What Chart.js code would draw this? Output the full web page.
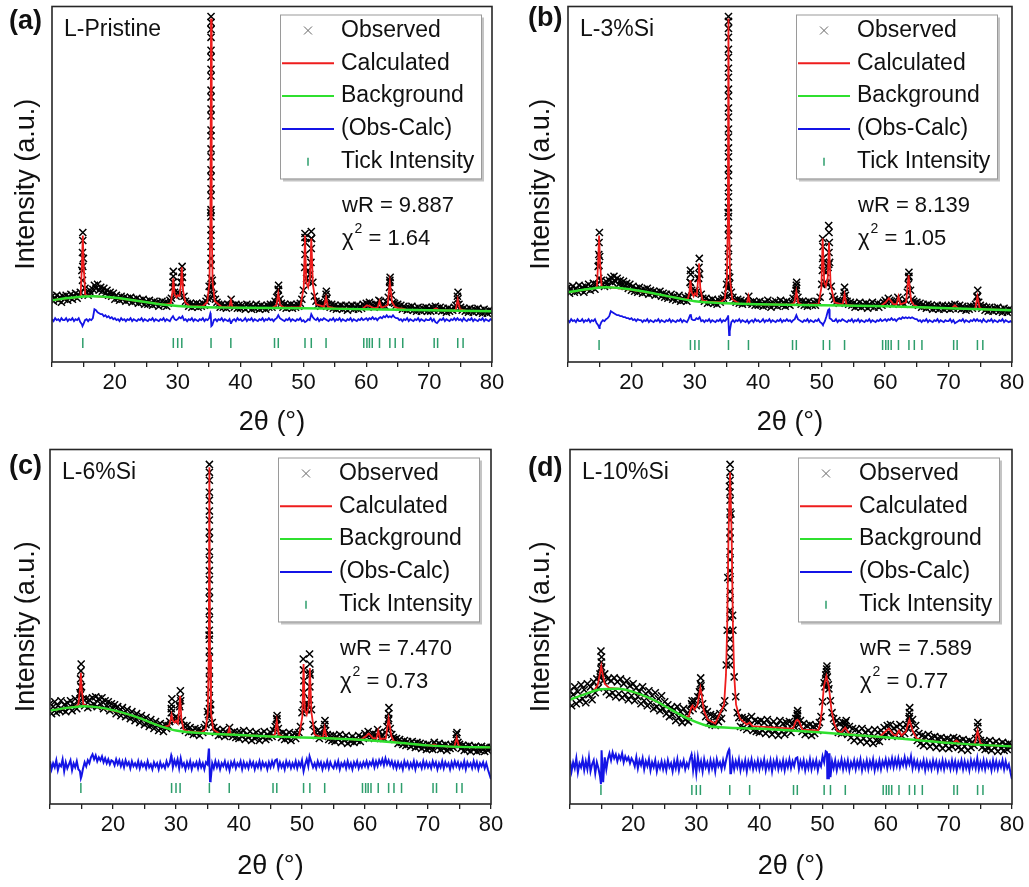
<!DOCTYPE html>
<html>
<head>
<meta charset="utf-8">
<script src="https://cdn.jsdelivr.net/npm/chart.js@4.4.0/dist/chart.umd.min.js"></script>
<style>
  body { margin: 0; background: #fff; }
  #wrap { position: relative; width: 1029px; height: 887px; overflow: hidden; }
  #wrap canvas { position: absolute; }
</style>
</head>
<body>
<div id="wrap">
  <canvas id="panelA" width="515" height="443" style="left:0;top:0"></canvas>
  <canvas id="panelB" width="514" height="443" style="left:515px;top:0"></canvas>
  <canvas id="panelC" width="515" height="444" style="left:0;top:443px"></canvas>
  <canvas id="panelD" width="514" height="444" style="left:515px;top:443px"></canvas>
</div>
<script>
// 2θ grid of the observed / difference points (0.25° steps)
const twoTheta = [
  10, 10.25, 10.5, 10.75, 11, 11.25, 11.5, 11.75, 12, 12.25, 12.5, 12.75, 13, 13.25, 13.5, 13.75, 14, 14.25, 14.5, 14.75,
  15, 15.25, 15.5, 15.75, 16, 16.25, 16.5, 16.75, 17, 17.25, 17.5, 17.75, 18, 18.25, 18.5, 18.75, 19, 19.25, 19.5, 19.75,
  20, 20.25, 20.5, 20.75, 21, 21.25, 21.5, 21.75, 22, 22.25, 22.5, 22.75, 23, 23.25, 23.5, 23.75, 24, 24.25, 24.5, 24.75,
  25, 25.25, 25.5, 25.75, 26, 26.25, 26.5, 26.75, 27, 27.25, 27.5, 27.75, 28, 28.25, 28.5, 28.75, 29, 29.25, 29.5, 29.75,
  30, 30.25, 30.5, 30.75, 31, 31.25, 31.5, 31.75, 32, 32.25, 32.5, 32.75, 33, 33.25, 33.5, 33.75, 34, 34.25, 34.5, 34.75,
  35, 35.25, 35.5, 35.75, 36, 36.25, 36.5, 36.75, 37, 37.25, 37.5, 37.75, 38, 38.25, 38.5, 38.75, 39, 39.25, 39.5, 39.75,
  40, 40.25, 40.5, 40.75, 41, 41.25, 41.5, 41.75, 42, 42.25, 42.5, 42.75, 43, 43.25, 43.5, 43.75, 44, 44.25, 44.5, 44.75,
  45, 45.25, 45.5, 45.75, 46, 46.25, 46.5, 46.75, 47, 47.25, 47.5, 47.75, 48, 48.25, 48.5, 48.75, 49, 49.25, 49.5, 49.75,
  50, 50.25, 50.5, 50.75, 51, 51.25, 51.5, 51.75, 52, 52.25, 52.5, 52.75, 53, 53.25, 53.5, 53.75, 54, 54.25, 54.5, 54.75,
  55, 55.25, 55.5, 55.75, 56, 56.25, 56.5, 56.75, 57, 57.25, 57.5, 57.75, 58, 58.25, 58.5, 58.75, 59, 59.25, 59.5, 59.75,
  60, 60.25, 60.5, 60.75, 61, 61.25, 61.5, 61.75, 62, 62.25, 62.5, 62.75, 63, 63.25, 63.5, 63.75, 64, 64.25, 64.5, 64.75,
  65, 65.25, 65.5, 65.75, 66, 66.25, 66.5, 66.75, 67, 67.25, 67.5, 67.75, 68, 68.25, 68.5, 68.75, 69, 69.25, 69.5, 69.75,
  70, 70.25, 70.5, 70.75, 71, 71.25, 71.5, 71.75, 72, 72.25, 72.5, 72.75, 73, 73.25, 73.5, 73.75, 74, 74.25, 74.5, 74.75,
  75, 75.25, 75.5, 75.75, 76, 76.25, 76.5, 76.75, 77, 77.25, 77.5, 77.75, 78, 78.25, 78.5, 78.75, 79, 79.25, 79.5, 79.75,
  80
];

// Bragg reflection positions (tick marks)
const tickAngles = [14.9, 29.3, 30.0, 30.65, 35.3, 38.45, 45.4, 46.0, 50.25, 51.25, 53.6,
  59.6, 60.1, 60.5, 60.95, 62.1, 63.75, 64.6, 65.8, 70.8, 71.35, 74.55, 75.4];

// ---------- (a) L-Pristine ----------
const obsA = [
  66, 61, 64, 67, 62, 65, 60, 66, 63, 67, 62, 65, 68, 63, 66, 69, 64, 67, 70, 92,
  104, 74, 70, 67, 72, 69, 73, 77, 74, 78, 72, 75, 71, 74, 69, 72, 67, 70, 66, 69,
  63, 67, 64, 62, 66, 63, 65, 61, 64, 62, 65, 60, 63, 61, 64, 59, 62, 60, 63, 58,
  61, 58, 62, 59, 57, 61, 58, 60, 56, 59, 61, 57, 60, 56, 59, 62, 64, 80, 70, 66,
  70, 68, 80, 85, 66, 61, 59, 56, 59, 55, 58, 56, 59, 55, 58, 56, 59, 57, 61, 64,
  76, 150, 82, 68, 63, 60, 58, 55, 58, 55, 57, 54, 58, 57, 63, 57, 55, 58, 54, 57,
  54, 57, 55, 53, 58, 55, 57, 53, 56, 54, 58, 55, 53, 57, 54, 56, 53, 57, 55, 58,
  55, 58, 61, 65, 72, 63, 59, 55, 58, 54, 57, 55, 58, 54, 57, 55, 58, 56, 59, 63,
  72, 125, 84, 82, 88, 124, 80, 66, 61, 57, 60, 56, 59, 58, 63, 64, 58, 55, 58, 54,
  57, 53, 56, 54, 57, 53, 55, 57, 52, 56, 54, 57, 53, 55, 57, 53, 56, 54, 58, 56,
  59, 57, 60, 58, 57, 55, 58, 57, 62, 61, 57, 58, 56, 60, 65, 80, 67, 60, 59, 57,
  58, 55, 57, 53, 56, 54, 52, 55, 53, 56, 52, 54, 51, 55, 53, 51, 54, 52, 55, 51,
  54, 51, 55, 52, 56, 54, 52, 55, 51, 54, 52, 50, 54, 51, 53, 52, 55, 57, 63, 58,
  55, 52, 54, 51, 53, 50, 54, 52, 50, 53, 51, 54, 50, 52, 49, 53, 51, 49, 52, 50,
  51
];
const peakAngleA = [14.85, 14.9, 14.85, 14.9, 14.9, 29.25, 29.3, 29.3, 30.6, 30.65, 30.7, 35.2, 35.4,
  45.95, 46.0, 46.05, 50.2, 50.25, 50.3, 50.25, 50.75, 51.2, 51.25, 51.3, 51.25, 53.6, 53.65,
  63.7, 63.75, 63.8, 74.5, 74.6];
const peakObsA = [82, 96, 110, 122, 130, 75, 86, 91, 80, 90, 96, 70, 75,
  66, 73, 77, 95, 108, 120, 129, 92, 100, 114, 124, 131, 68, 71,
  75, 82, 85, 66, 70];
const columnA = [64, 76, 84, 97, 104, 116, 127, 133, 146, 153, 167, 174, 186, 193, 206, 214,
  227, 233, 247, 254, 266, 273, 287, 294, 306, 313, 326, 334, 341, 347];
const calcAngleA = [10, 12, 14, 14.55, 14.75, 14.9, 15.05, 15.3, 17, 20,
  24, 28, 28.9, 29.15, 29.3, 29.5, 29.8, 30.0, 30.3, 30.5,
  30.65, 30.85, 31.2, 32, 34, 34.7, 35.05, 35.2, 35.3, 35.4,
  35.55, 35.9, 37, 38.2, 38.45, 38.7, 40, 45, 45.7, 46.0,
  46.3, 47, 49.5, 50.05, 50.25, 50.45, 50.75, 51.05, 51.25, 51.5,
  52, 53.3, 53.6, 53.9, 55, 59.3, 60.1, 60.6, 61.3, 61.8,
  62.1, 62.4, 63.4, 63.75, 64.1, 64.6, 65.1, 65.8, 66.3, 70.5,
  71.1, 71.6, 74.2, 74.55, 74.9, 75.4, 75.8, 80];
const calcA = [62, 63.7, 65, 66, 95, 127, 95, 67, 66, 64.5,
  61, 57.5, 59, 70, 84, 68, 65, 67, 66, 78,
  95, 72, 60, 55.5, 56, 60, 80, 140, 345, 140,
  80, 61, 55.2, 55, 62, 55, 54.5, 54.3, 57, 69,
  57, 54.5, 55, 75, 127, 80, 75, 85, 124, 78,
  58, 55.5, 65, 55.5, 53.8, 53.1, 57, 56, 54, 54.5,
  61, 54.5, 57, 80, 60, 55, 54, 53.5, 52.6, 52,
  54, 52, 51.6, 63, 53, 52, 51.5, 51];
const bgAngleA = [10, 13, 16.5, 20, 24, 28, 32, 40, 50, 60, 70, 80];
const bgA = [62, 64.5, 66, 64.5, 61, 57.5, 55.5, 54.5, 54, 53, 52, 51];
const diffA = [
  43, 41, 44, 42, 43, 41, 44, 42, 42, 44, 41, 43, 42, 44, 41, 43, 42, 44, 40, 38,
  38, 42, 43, 41, 43, 42, 44, 53, 52, 50, 49, 48, 48, 46, 47, 45, 46, 44, 45, 43,
  44, 42, 43, 41, 44, 42, 43, 41, 43, 42, 44, 41, 43, 42, 41, 43, 42, 44, 41, 43,
  42, 41, 43, 42, 44, 41, 43, 42, 41, 43, 42, 44, 41, 43, 42, 41, 44, 46, 43, 42,
  43, 45, 44, 46, 42, 43, 41, 43, 42, 44, 41, 43, 42, 41, 43, 42, 44, 41, 43, 42,
  44, 48, 37, 42, 43, 41, 43, 42, 44, 41, 43, 42, 41, 43, 39, 42, 43, 41, 44, 42,
  43, 41, 42, 44, 41, 43, 42, 44, 41, 43, 42, 41, 43, 42, 44, 41, 43, 42, 44, 42,
  43, 41, 43, 44, 47, 44, 43, 42, 41, 43, 42, 44, 41, 43, 42, 41, 43, 42, 44, 41,
  42, 40, 41, 43, 42, 48, 45, 43, 42, 44, 41, 43, 42, 44, 43, 42, 41, 43, 42, 44,
  41, 43, 42, 44, 41, 43, 42, 41, 43, 42, 44, 41, 43, 42, 41, 43, 42, 44, 42, 43,
  44, 42, 44, 43, 45, 43, 44, 42, 44, 45, 44, 46, 45, 47, 45, 46, 45, 47, 45, 44,
  44, 42, 43, 41, 43, 42, 44, 41, 43, 42, 41, 43, 42, 44, 41, 43, 42, 41, 43, 42,
  42, 44, 41, 43, 40, 39, 41, 43, 42, 44, 41, 43, 42, 41, 43, 42, 44, 42, 44, 42,
  43, 41, 44, 42, 41, 43, 42, 44, 41, 43, 42, 41, 43, 42, 44, 41, 43, 42, 41, 43,
  42
];
const diffPeakAngleA = [14.85, 35.2, 35.35, 38.45, 50.3, 51.25];
const diffPeakA = [36, 49, 36, 39, 40, 48];

// ---------- (b) L-3%Si ----------
const obsB = [
  75, 69, 73, 76, 70, 74, 71, 77, 72, 75, 70, 76, 73, 78, 72, 75, 79, 73, 78, 96,
  106, 82, 78, 76, 81, 77, 82, 85, 80, 86, 81, 84, 78, 82, 77, 81, 76, 79, 74, 78,
  72, 76, 71, 74, 70, 75, 72, 69, 73, 70, 74, 68, 72, 69, 71, 67, 70, 68, 71, 66,
  69, 65, 68, 64, 66, 68, 63, 66, 62, 65, 67, 61, 64, 62, 65, 61, 66, 80, 72, 69,
  72, 70, 84, 88, 68, 64, 61, 64, 59, 62, 60, 63, 59, 61, 58, 62, 60, 63, 64, 67,
  78, 150, 85, 70, 65, 62, 60, 63, 59, 62, 58, 61, 60, 59, 66, 60, 58, 61, 57, 60,
  57, 61, 58, 56, 60, 57, 62, 58, 55, 60, 57, 61, 56, 59, 62, 57, 60, 56, 61, 58,
  57, 60, 64, 68, 74, 65, 61, 58, 61, 57, 60, 56, 61, 58, 57, 60, 57, 61, 60, 65,
  78, 100, 80, 79, 95, 100, 76, 66, 63, 60, 62, 59, 61, 60, 66, 67, 61, 58, 60, 57,
  59, 55, 58, 56, 60, 55, 58, 56, 59, 54, 58, 56, 60, 55, 57, 59, 55, 58, 57, 60,
  62, 60, 64, 62, 61, 58, 60, 59, 65, 63, 59, 60, 58, 62, 70, 86, 72, 63, 61, 59,
  60, 57, 59, 55, 58, 56, 54, 58, 55, 57, 53, 56, 54, 57, 53, 55, 57, 53, 56, 54,
  56, 53, 57, 54, 58, 56, 54, 57, 53, 56, 54, 52, 55, 53, 56, 54, 56, 58, 65, 60,
  57, 54, 56, 52, 55, 51, 55, 53, 51, 54, 52, 55, 51, 53, 50, 54, 52, 50, 53, 51,
  52
];
const peakAngleB = [14.85, 14.9, 14.85, 14.9, 14.95, 29.3, 29.35, 29.3, 30.6, 30.65, 30.7, 35.2, 35.4,
  45.95, 46.0, 46.05, 50.1, 50.15, 50.2, 50.15, 50.65, 51.1, 51.15, 51.2, 51.15, 51.1,
  53.55, 53.6, 63.65, 63.7, 63.75, 74.5, 74.6];
const peakObsB = [84, 97, 108, 120, 130, 80, 88, 92, 84, 95, 104, 74, 78,
  72, 77, 80, 92, 104, 116, 124, 90, 98, 110, 120, 130, 137,
  70, 75, 78, 85, 90, 66, 72];
const columnB = [66, 75, 86, 95, 106, 114, 127, 134, 146, 155, 166, 175, 187, 194, 206, 215,
  226, 234, 246, 255, 267, 274, 286, 295, 306, 314, 326, 335, 342, 347];
const calcAngleB = [10, 12, 14, 14.55, 14.75, 14.9, 15.05, 15.3, 17, 20,
  24, 28, 28.9, 29.15, 29.3, 29.5, 29.8, 30.0, 30.3, 30.5,
  30.65, 30.85, 31.2, 32, 34, 34.7, 35.05, 35.2, 35.3, 35.4,
  35.55, 35.9, 37, 38.2, 38.45, 38.7, 40, 45, 45.7, 46.0,
  46.3, 47, 49.5, 49.95, 50.15, 50.4, 50.65, 50.95, 51.15, 51.4,
  52, 53.3, 53.6, 53.9, 55, 59.3, 60.1, 60.6, 61.3, 61.8,
  62.1, 62.4, 63.3, 63.7, 64.1, 64.6, 65.1, 65.8, 66.3, 70.5,
  71.0, 71.5, 74.2, 74.55, 74.9, 75.4, 75.8, 80];
const calcB = [70, 72, 73.7, 75, 100, 127, 100, 75.5, 74.8, 72.5,
  68.2, 63.3, 63, 70, 82, 70, 66, 69, 67, 82,
  99, 75, 62, 60.6, 60, 63, 82, 140, 345, 140,
  82, 63, 58.6, 58.4, 66, 58.3, 58, 57.5, 59.5, 71,
  59.5, 57.3, 58, 75, 124, 80, 76, 85, 120, 78,
  60, 57.7, 68, 57.6, 56.5, 56.1, 60, 64, 58, 58,
  66, 58, 60, 87, 61, 56.5, 55.6, 55, 54.7, 53.9,
  57, 53.7, 53.2, 66, 54, 53, 52.8, 52];
const bgAngleB = [10, 13, 16, 19, 23, 27, 30, 35, 40, 50, 60, 70, 80];
const bgB = [70, 73, 75, 73.5, 69.5, 64.5, 61, 59, 58, 57, 56, 54, 52];
const diffB = [
  42, 40, 43, 41, 42, 40, 43, 41, 41, 43, 40, 42, 41, 43, 40, 42, 41, 43, 39, 37,
  36, 40, 42, 41, 43, 44, 46, 51, 50, 49, 48, 47, 47, 46, 46, 45, 45, 44, 44, 43,
  44, 42, 43, 41, 43, 42, 42, 40, 42, 41, 43, 40, 42, 41, 40, 42, 41, 43, 40, 42,
  41, 40, 42, 41, 43, 40, 42, 41, 40, 42, 41, 43, 40, 42, 41, 40, 43, 47, 43, 42,
  42, 44, 43, 45, 41, 42, 40, 42, 41, 43, 40, 42, 41, 40, 42, 41, 43, 40, 42, 41,
  43, 46, 31, 40, 42, 40, 42, 41, 43, 40, 42, 41, 40, 42, 39, 41, 42, 40, 43, 41,
  42, 40, 41, 43, 40, 42, 41, 43, 40, 42, 41, 40, 42, 41, 43, 40, 42, 41, 43, 41,
  42, 40, 42, 43, 47, 43, 42, 41, 40, 42, 41, 43, 40, 42, 41, 40, 42, 41, 43, 40,
  39, 38, 41, 46, 52, 44, 43, 41, 41, 43, 40, 42, 41, 43, 42, 41, 40, 42, 41, 43,
  40, 42, 41, 43, 40, 42, 41, 40, 42, 41, 43, 40, 42, 41, 40, 42, 41, 43, 41, 42,
  43, 41, 43, 42, 44, 42, 43, 41, 43, 44, 43, 45, 44, 45, 44, 45, 44, 45, 44, 43,
  43, 41, 42, 40, 42, 41, 43, 40, 42, 41, 40, 42, 41, 43, 40, 42, 41, 40, 42, 41,
  41, 43, 40, 42, 39, 40, 41, 42, 41, 43, 40, 42, 41, 40, 42, 41, 43, 41, 43, 41,
  42, 40, 43, 41, 40, 42, 41, 43, 40, 42, 41, 40, 42, 41, 43, 40, 42, 41, 40, 41,
  40
];
const diffPeakAngleB = [14.95, 29.35, 35.25, 35.4, 50.2, 51.15];
const diffPeakB = [34, 48, 47, 27, 37, 53];

// ---------- (c) L-6%Si ----------
const obsC = [
  101, 91, 98, 103, 92, 99, 94, 104, 95, 100, 93, 102, 97, 104, 94, 100, 106, 96, 103, 112,
  118, 106, 99, 106, 97, 105, 99, 107, 100, 108, 98, 106, 101, 107, 96, 104, 99, 103, 94, 101,
  96, 100, 91, 98, 94, 89, 97, 92, 88, 95, 90, 86, 93, 88, 84, 91, 87, 82, 89, 85,
  80, 87, 82, 78, 85, 80, 76, 83, 79, 74, 81, 77, 73, 80, 76, 79, 83, 96, 86, 84,
  88, 86, 100, 104, 84, 79, 74, 79, 72, 77, 73, 70, 76, 71, 75, 69, 74, 72, 77, 80,
  93, 170, 100, 82, 77, 72, 75, 69, 73, 70, 75, 68, 72, 70, 77, 71, 68, 73, 67, 72,
  66, 72, 68, 74, 65, 70, 67, 73, 64, 70, 66, 72, 68, 64, 71, 67, 73, 65, 70, 67,
  72, 68, 74, 78, 85, 76, 71, 67, 72, 65, 70, 66, 72, 64, 69, 71, 66, 70, 72, 78,
  92, 135, 98, 95, 100, 132, 95, 80, 73, 69, 74, 66, 71, 68, 76, 74, 70, 65, 69, 64,
  69, 63, 68, 65, 70, 62, 67, 64, 69, 61, 66, 63, 68, 62, 66, 64, 69, 63, 67, 66,
  71, 68, 73, 70, 67, 71, 66, 70, 75, 72, 67, 70, 66, 72, 78, 86, 76, 70, 67, 65,
  66, 61, 65, 62, 60, 64, 59, 63, 61, 58, 63, 60, 57, 62, 58, 61, 56, 60, 58, 55,
  60, 56, 59, 55, 62, 59, 57, 61, 55, 59, 56, 60, 54, 58, 56, 59, 57, 60, 66, 62,
  60, 56, 59, 54, 58, 55, 59, 53, 57, 55, 58, 53, 57, 54, 58, 55, 53, 57, 54, 56,
  57
];
const peakAngleC = [14.85, 14.9, 14.85, 14.9, 14.95, 29.25, 29.3, 29.35, 30.6, 30.65, 30.7, 35.15, 35.45,
  45.95, 46.0, 46.05, 50.2, 50.25, 50.3, 50.25, 50.2, 50.75, 51.2, 51.25, 51.3, 51.25, 51.2,
  53.6, 53.65, 63.7, 63.75, 63.8, 74.5, 74.6];
const peakObsC = [110, 118, 126, 134, 141, 92, 100, 106, 98, 107, 114, 90, 95,
  80, 86, 89, 100, 112, 124, 135, 146, 100, 105, 118, 130, 141, 151,
  80, 84, 84, 91, 97, 70, 72];
const columnC = [88, 96, 107, 115, 126, 134, 147, 154, 166, 175, 186, 194, 207, 214,
  226, 235, 246, 254, 267, 274, 286, 295, 306, 314, 326, 334, 342];
const calcAngleC = [10, 12, 14, 14.5, 14.75, 14.9, 15.05, 15.3, 16, 18,
  20, 22, 24, 26, 28, 28.9, 29.15, 29.3, 29.5, 29.8,
  30.0, 30.3, 30.5, 30.65, 30.85, 31.2, 32, 34, 34.7, 35.05,
  35.2, 35.3, 35.4, 35.55, 35.9, 37, 38.2, 38.45, 38.7, 40,
  45, 45.7, 46.0, 46.3, 47, 49.5, 50.05, 50.25, 50.45, 50.75,
  51.05, 51.25, 51.5, 52, 53.3, 53.6, 53.9, 55, 59.3, 60.1,
  60.6, 61.3, 61.8, 62.1, 62.4, 63.3, 63.75, 64.2, 64.6, 65.1,
  65.8, 66.3, 70.5, 71.0, 71.5, 74.2, 74.55, 74.9, 75.4, 75.8,
  80];
const calcC = [94, 96, 98, 100, 115, 132, 115, 100, 98.5, 97,
  94, 91, 87, 82, 77.5, 79, 85, 90, 84, 82,
  84, 81, 95, 109, 86, 75, 73, 72, 75, 92,
  150, 339, 150, 92, 75, 70.5, 70, 76, 70, 69.5,
  68, 70, 84, 70, 67.8, 67.2, 88, 141, 95, 90,
  98, 137, 92, 70, 66.3, 77, 66.2, 66, 64.7, 68,
  71, 66, 66, 74, 65.5, 66, 86, 68, 63, 62,
  61.5, 61, 58.8, 60, 58.5, 57.6, 67, 58, 57.5, 57.4,
  57];
const bgAngleC = [10, 13, 15.5, 18, 21.5, 24, 26, 28, 30, 35, 40, 45, 50, 55, 60, 65, 70, 75, 80];
const bgC = [94, 97, 98.5, 97, 92, 87, 82, 77.5, 74, 71, 69.5, 68, 67, 66, 64.5, 62, 59, 57.5, 57];
const diffC = [
  43, 35, 41, 37, 44, 34, 40, 38, 45, 33, 42, 36, 40, 44, 34, 41, 37, 43, 35, 33,
  28, 36, 42, 38, 44, 41, 47, 50, 45, 49, 43, 47, 44, 48, 42, 46, 41, 45, 40, 44,
  43, 39, 45, 40, 44, 38, 43, 37, 44, 39, 42, 36, 43, 38, 41, 37, 43, 36, 42, 38,
  41, 36, 43, 37, 40, 35, 42, 38, 41, 35, 42, 37, 40, 36, 43, 38, 41, 49, 37, 44,
  39, 45, 36, 46, 38, 41, 35, 42, 37, 43, 35, 41, 38, 42, 36, 43, 37, 41, 35, 42,
  40, 55, 24, 41, 36, 43, 37, 42, 35, 41, 38, 43, 36, 41, 34, 42, 38, 43, 36, 41,
  38, 43, 35, 42, 37, 41, 36, 43, 38, 42, 35, 41, 37, 43, 36, 42, 38, 41, 35, 42,
  37, 43, 38, 44, 45, 36, 42, 37, 41, 35, 43, 38, 42, 36, 41, 37, 43, 36, 42, 38,
  44, 33, 40, 45, 38, 48, 42, 37, 41, 36, 43, 38, 42, 35, 41, 37, 43, 36, 42, 38,
  36, 42, 37, 43, 35, 41, 38, 42, 36, 43, 37, 41, 35, 42, 38, 43, 36, 41, 37, 42,
  38, 43, 37, 42, 39, 44, 37, 43, 38, 44, 40, 45, 39, 46, 40, 44, 39, 43, 37, 42,
  36, 42, 37, 41, 35, 43, 38, 42, 36, 41, 37, 43, 35, 42, 38, 41, 36, 43, 37, 42,
  37, 41, 36, 43, 38, 42, 35, 41, 37, 43, 36, 42, 38, 41, 35, 42, 37, 43, 38, 42,
  36, 41, 37, 43, 35, 42, 38, 41, 36, 43, 37, 42, 35, 41, 38, 42, 36, 41, 35, 30,
  25
];
const diffPeakAngleC = [14.9, 29.3, 35.2, 35.4, 50.3, 51.2];
const diffPeakC = [26, 48, 55, 23, 33, 48];

// ---------- (d) L-10%Si ----------
const obsD = [
  114, 99, 110, 118, 101, 113, 104, 120, 106, 115, 102, 121, 110, 118, 105, 123, 112, 126, 117, 131,
  138, 124, 131, 113, 126, 110, 124, 112, 127, 108, 123, 111, 126, 107, 121, 110, 124, 105, 119, 109,
  121, 104, 117, 108, 113, 101, 118, 104, 111, 99, 114, 102, 109, 96, 112, 98, 106, 94, 109, 96,
  103, 91, 100, 88, 97, 90, 95, 84, 98, 87, 93, 82, 96, 85, 91, 83, 94, 101, 96, 104,
  99, 108, 113, 119, 101, 95, 88, 93, 82, 90, 80, 89, 79, 88, 83, 91, 86, 97, 104, 140,
  228, 320, 292, 190, 128, 108, 92, 87, 78, 87, 77, 86, 75, 85, 79, 88, 74, 84, 73, 83,
  72, 84, 74, 82, 71, 85, 75, 80, 70, 83, 74, 79, 69, 84, 73, 81, 70, 82, 75, 83,
  72, 81, 78, 86, 89, 80, 84, 73, 81, 70, 79, 72, 80, 69, 78, 71, 79, 74, 82, 88,
  103, 122, 130, 128, 116, 104, 92, 86, 78, 84, 72, 81, 71, 82, 76, 84, 70, 78, 67, 76,
  64, 75, 67, 73, 63, 76, 66, 72, 62, 74, 65, 71, 61, 75, 64, 72, 63, 74, 68, 77,
  70, 79, 72, 80, 68, 76, 70, 78, 72, 80, 69, 77, 71, 80, 76, 88, 80, 85, 72, 79,
  64, 71, 61, 69, 59, 68, 62, 70, 58, 67, 61, 68, 57, 66, 60, 67, 56, 65, 59, 66,
  56, 65, 58, 67, 60, 66, 57, 64, 55, 65, 58, 63, 54, 64, 57, 62, 59, 66, 72, 70,
  64, 57, 63, 55, 62, 56, 64, 54, 61, 57, 63, 53, 60, 56, 62, 54, 60, 55, 61, 57,
  59
];
const peakAngleD = [14.8, 14.9, 14.95, 15.0, 14.9, 29.3, 29.35, 30.6, 30.65, 30.7, 34.9, 35.8,
  45.95, 46.0, 46.05, 50.4, 50.5, 50.6, 50.7, 50.65, 50.9, 53.55, 53.6, 63.7, 63.75, 63.8, 74.55, 74.6];
const peakObsD = [128, 136, 143, 148, 154, 100, 104, 112, 121, 127, 175, 175,
  86, 91, 94, 118, 126, 133, 139, 136, 120, 79, 82, 86, 92, 97, 78, 82];
const columnD = [140, 148, 157, 166, 174, 187, 195, 206, 214, 226, 235, 246, 254, 267, 274,
  286, 294, 306, 314, 326, 334, 342];
const calcAngleD = [10, 12, 13.8, 14.4, 14.7, 14.95, 15.2, 15.5, 16.2, 18,
  20, 22, 24, 26, 28, 28.8, 29.2, 29.4, 29.7, 30.0,
  30.2, 30.45, 30.65, 30.85, 31.2, 31.8, 33, 34.4, 34.7, 34.9,
  35.1, 35.35, 35.6, 35.8, 36.0, 36.3, 36.9, 38.0, 38.45, 38.9,
  40, 45.3, 45.8, 46.0, 46.3, 46.8, 49.3, 49.6, 49.9, 50.2,
  50.6, 51.0, 51.4, 51.8, 52.3, 53.0, 53.6, 54.2, 55, 59.0,
  59.6, 60.5, 61.2, 61.7, 62.1, 62.5, 63.2, 63.75, 64.3, 64.9,
  65.8, 70.6, 71.2, 71.8, 74.1, 74.55, 75.0, 75.6, 80];
const calcD = [105, 110, 114, 120, 130, 139, 130, 121, 117, 116,
  113, 108, 102.5, 95, 88, 88, 97, 99, 95, 98,
  100, 110, 117, 110, 94, 85, 81, 100, 130, 180,
  270, 334, 270, 180, 130, 100, 86, 80, 82, 78.5,
  78, 76, 84, 85, 83, 75, 74, 80, 95, 118,
  129, 118, 95, 82, 74, 72, 77, 71, 69.5, 67.6,
  71, 76, 70, 69, 74, 69, 73, 85, 73, 66,
  64, 61.2, 64, 60.8, 59.8, 74, 61, 59.3, 58];
const bgAngleD = [10, 12.5, 15, 17.5, 20, 23.5, 26, 28.7, 32.4, 39.3, 45, 49.9, 55, 60.4, 65.7, 71, 75, 80];
const bgD = [105, 111, 115.5, 116, 113, 104, 95, 86, 78, 76, 74, 72, 69.5, 67, 64, 61, 59.5, 58];
const diffD = [
  44, 33, 42, 36, 46, 32, 41, 37, 45, 34, 43, 35, 47, 33, 40, 44, 31, 42, 36, 28,
  54, 22, 47, 35, 45, 51, 44, 52, 46, 50, 43, 49, 45, 51, 42, 48, 44, 47, 41, 46,
  43, 38, 47, 36, 44, 39, 46, 35, 43, 38, 45, 34, 42, 37, 44, 33, 41, 36, 43, 35,
  42, 34, 44, 37, 41, 33, 43, 36, 45, 34, 42, 38, 44, 35, 41, 37, 45, 50, 34, 46,
  31, 47, 36, 43, 33, 45, 37, 42, 34, 44, 36, 43, 33, 45, 38, 42, 35, 44, 37, 45,
  52, 54, 31, 44, 35, 43, 37, 45, 34, 42, 36, 44, 33, 43, 37, 45, 35, 42, 36, 44,
  35, 43, 37, 45, 34, 42, 36, 44, 33, 43, 37, 45, 35, 42, 36, 44, 34, 43, 37, 45,
  36, 43, 38, 46, 47, 35, 43, 37, 44, 34, 42, 36, 45, 35, 43, 37, 44, 34, 42, 38,
  48, 42, 53, 26, 50, 27, 43, 36, 44, 34, 42, 37, 45, 35, 43, 36, 44, 34, 42, 37,
  44, 35, 43, 37, 45, 34, 42, 36, 44, 35, 43, 37, 45, 34, 42, 36, 44, 35, 43, 38,
  45, 36, 44, 38, 46, 37, 45, 38, 46, 37, 44, 39, 47, 38, 45, 40, 48, 36, 44, 37,
  43, 35, 42, 37, 44, 34, 43, 36, 42, 35, 44, 37, 43, 34, 42, 36, 44, 35, 43, 37,
  42, 35, 44, 36, 43, 34, 42, 37, 44, 35, 43, 36, 42, 34, 44, 37, 43, 36, 46, 35,
  42, 36, 44, 35, 43, 37, 42, 34, 44, 36, 43, 35, 42, 37, 44, 35, 43, 36, 40, 32,
  25
];
const diffPeakAngleD = [14.9, 29.3, 35.2, 35.4, 50.7, 50.9, 51.1];
const diffPeakD = [20, 48, 55, 31, 52, 26, 50];

const FONT = "'Liberation Sans', Arial, Helvetica, sans-serif";
const RED = '#ee1d1d';
const GREEN = '#2fe02f';
const BLUE = '#1414e6';
const TICK = '#2e9e6c';

function zip(xs, ys) {
  return xs.map((x, i) => ({ x: x, y: ys[i] }));
}
function sortedZip(xs, ys, xs2, ys2) {
  return zip(xs, ys).concat(zip(xs2, ys2)).sort((a, b) => a.x - b.x);
}

// frame, panel letter, sample name, legend and fit statistics
const decor = {
  id: 'decor',
  afterDatasetsDraw(chart, args, o) {
    const ctx = chart.ctx;
    const ca = chart.chartArea;
    ctx.save();
    ctx.strokeStyle = '#262626';
    ctx.lineWidth = 1.6;
    ctx.strokeRect(ca.left, ca.top, ca.right - ca.left, ca.bottom - ca.top);

    ctx.fillStyle = '#111';
    ctx.textBaseline = 'middle';
    ctx.textAlign = 'left';
    ctx.font = 'bold 27px ' + FONT;
    ctx.fillText(o.letter, o.letterX, o.letterY);
    ctx.font = '23px ' + FONT;
    ctx.fillText(o.sample, ca.left + 12, ca.top + 23);

    // legend box with drop shadow
    const lx = ca.left + 228, ly = ca.top + 8, lw = 201, lh = 164;
    ctx.fillStyle = '#c4c4c4';
    ctx.fillRect(lx + 3, ly + 3, lw, lh);
    ctx.fillStyle = '#fff';
    ctx.fillRect(lx, ly, lw, lh);
    ctx.strokeStyle = '#9a9a9a';
    ctx.lineWidth = 1;
    ctx.strokeRect(lx + 0.5, ly + 0.5, lw, lh);

    const byLabel = {};
    chart.data.datasets.forEach(d => { byLabel[d.label] = d; });
    const rows = ['Observed', 'Calculated', 'Background', '(Obs-Calc)', 'Tick Intensity'];
    rows.forEach((name, i) => {
      const d = byLabel[name];
      const y = ly + 16 + i * 32.8;
      const cx = lx + 28;
      if (name === 'Observed') {
        ctx.strokeStyle = '#666';
        ctx.lineWidth = 1;
        ctx.beginPath();
        ctx.moveTo(cx - 4, y - 4); ctx.lineTo(cx + 4, y + 4);
        ctx.moveTo(cx + 4, y - 4); ctx.lineTo(cx - 4, y + 4);
        ctx.stroke();
      } else if (name === 'Tick Intensity') {
        ctx.strokeStyle = d.pointBorderColor;
        ctx.lineWidth = 1.5;
        ctx.beginPath();
        ctx.moveTo(cx, y - 4); ctx.lineTo(cx, y + 4);
        ctx.stroke();
      } else {
        ctx.strokeStyle = d.borderColor;
        ctx.lineWidth = 2;
        ctx.beginPath();
        ctx.moveTo(lx + 2, y); ctx.lineTo(lx + 54, y);
        ctx.stroke();
      }
      ctx.fillStyle = '#111';
      ctx.font = '23px ' + FONT;
      ctx.fillText(name, lx + 61, y);
    });

    // refinement statistics
    const tx = lx + 62;
    ctx.font = '22px ' + FONT;
    ctx.fillText('wR = ' + o.wR, tx, ca.top + 199);
    const cy = ca.top + 232;
    ctx.fillText('\u03c7', tx, cy);
    let w = ctx.measureText('\u03c7').width;
    ctx.font = '14px ' + FONT;
    ctx.fillText('2', tx + w + 1, cy - 9);
    w += ctx.measureText('2').width + 1;
    ctx.font = '22px ' + FONT;
    ctx.fillText(' = ' + o.chi, tx + w, cy);
    ctx.restore();
  }
};

function drawPanel(p) {
  const canvas = document.getElementById(p.id);
  const cw = canvas.width, chh = canvas.height;
  const obs = zip(twoTheta, p.obs)
    .concat(zip(p.peakAngle, p.peakObs))
    .concat(p.column.map(h => ({ x: p.mainPeak, y: h })));
  new Chart(canvas, {
    type: 'scatter',
    data: {
      datasets: [
        { label: 'Background', data: zip(p.bgAngle, p.bg), showLine: true,
          borderColor: GREEN, borderWidth: 2.4, pointRadius: 0,
          cubicInterpolationMode: 'monotone', order: 1 },
        { label: 'Calculated', data: zip(p.calcAngle, p.calc), showLine: true,
          borderColor: RED, borderWidth: 1.8, pointRadius: 0, order: 2 },
        { label: 'Observed', data: obs, pointStyle: 'crossRot', pointRadius: 5,
          pointBorderColor: '#000', pointBorderWidth: 1.5, pointBackgroundColor: 'transparent', order: 3 },
        { label: '(Obs-Calc)', data: sortedZip(twoTheta, p.diff, p.diffPeakAngle, p.diffPeak), showLine: true,
          borderColor: BLUE, borderWidth: p.diffWidth, pointRadius: 0, order: 4 },
        { label: 'Tick Intensity', data: tickAngles.map(a => ({ x: a, y: p.tickRow })),
          pointStyle: 'line', pointRotation: 90, pointRadius: 5,
          pointBorderColor: TICK, pointBorderWidth: 1.5, order: 5 }
      ]
    },
    options: {
      responsive: false,
      devicePixelRatio: 1,
      animation: false,
      events: [],
      layout: { padding: { top: p.top, right: cw - p.right, left: 0, bottom: 0 } },
      plugins: {
        legend: { display: false },
        tooltip: { enabled: false },
        decor: { letter: p.letter, letterX: p.letterX, letterY: p.letterY,
                 sample: p.sample, wR: p.wR, chi: p.chi }
      },
      scales: {
        x: {
          type: 'linear', min: 10, max: 80,
          afterFit: s => { s.height = chh - p.bottom; },
          border: { display: false },
          grid: { drawOnChartArea: false, drawTicks: true, tickLength: 5, color: '#222', lineWidth: 1.3 },
          ticks: {
            stepSize: 5, autoSkip: false, maxRotation: 0, color: '#111', padding: 3,
            font: { family: FONT, size: 22 },
            callback: v => (v % 10 === 0 && v > 10) ? v : ''
          },
          title: { display: true, text: '2\u03b8 (\u00b0)', color: '#111',
                   font: { family: FONT, size: 27 }, padding: { top: 0, bottom: 4 } }
        },
        y: {
          type: 'linear', min: 0, max: 357,
          afterFit: s => { s.width = p.left; },
          border: { display: false },
          grid: { display: false },
          ticks: { display: false },
          title: { display: true, text: 'Intensity (a.u.)', color: '#111',
                   font: { family: FONT, size: 27 }, padding: { top: 10, bottom: 0 } }
        }
      }
    },
    plugins: [decor]
  });
}

const panels = [
  { id: 'panelA', letter: '(a)', letterX: 9, letterY: 22, sample: 'L-Pristine', wR: '9.887', chi: '1.64',
    left: 52, top: 5, right: 492, bottom: 362, tickRow: 19, mainPeak: 35.3, diffWidth: 1.8,
    obs: obsA, peakAngle: peakAngleA, peakObs: peakObsA, column: columnA,
    calcAngle: calcAngleA, calc: calcA, bgAngle: bgAngleA, bg: bgA,
    diff: diffA, diffPeakAngle: diffPeakAngleA, diffPeak: diffPeakA },
  { id: 'panelB', letter: '(b)', letterX: 13, letterY: 19, sample: 'L-3%Si', wR: '8.139', chi: '1.05',
    left: 53, top: 5, right: 497, bottom: 362, tickRow: 17, mainPeak: 35.3, diffWidth: 1.8,
    obs: obsB, peakAngle: peakAngleB, peakObs: peakObsB, column: columnB,
    calcAngle: calcAngleB, calc: calcB, bgAngle: bgAngleB, bg: bgB,
    diff: diffB, diffPeakAngle: diffPeakAngleB, diffPeak: diffPeakB },
  { id: 'panelC', letter: '(c)', letterX: 9, letterY: 24, sample: 'L-6%Si', wR: '7.470', chi: '0.73',
    left: 50, top: 4, right: 491, bottom: 361, tickRow: 16, mainPeak: 35.3, diffWidth: 2,
    obs: obsC, peakAngle: peakAngleC, peakObs: peakObsC, column: columnC,
    calcAngle: calcAngleC, calc: calcC, bgAngle: bgAngleC, bg: bgC,
    diff: diffC, diffPeakAngle: diffPeakAngleC, diffPeak: diffPeakC },
  { id: 'panelD', letter: '(d)', letterX: 13, letterY: 26, sample: 'L-10%Si', wR: '7.589', chi: '0.77',
    left: 55, top: 5, right: 497, bottom: 361, tickRow: 14, mainPeak: 35.35, diffWidth: 2,
    obs: obsD, peakAngle: peakAngleD, peakObs: peakObsD, column: columnD,
    calcAngle: calcAngleD, calc: calcD, bgAngle: bgAngleD, bg: bgD,
    diff: diffD, diffPeakAngle: diffPeakAngleD, diffPeak: diffPeakD }
];

panels.forEach(drawPanel);
</script>
</body>
</html>
